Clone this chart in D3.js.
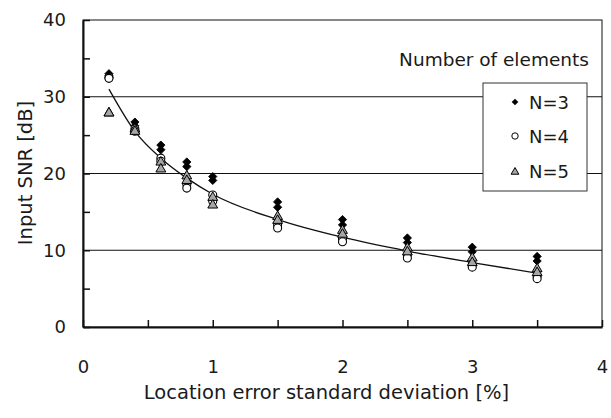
<!DOCTYPE html>
<html>
<head>
<meta charset="utf-8">
<script src="https://cdn.jsdelivr.net/npm/d3@7"></script>
<style>
  body { margin: 0; background: #fff; }
  text { font-family: "DejaVu Sans", sans-serif; fill: #1a1a1a; }
</style>
</head>
<body>
<div id="plot"></div>
<script>
// x positions (location error std dev, %)
var xs = [0.2, 0.4, 0.6, 0.8, 1.0, 1.5, 2.0, 2.5, 3.0, 3.5];

// two runs per x for each element count
var n3 = [[33.0, 32.8], [26.7, 26.2], [23.7, 23.1], [21.5, 20.9], [19.6, 19.1],
          [16.3, 15.6], [14.0, 13.3], [11.6, 11.0], [10.4, 9.8], [9.2, 8.6]];
var n4 = [[32.5, 32.4], [25.8, 25.5], [22.0, 21.6], [18.6, 18.1], [17.2, 16.4],
          [13.3, 12.9], [11.5, 11.1], [9.4, 9.0], [8.1, 7.8], [6.6, 6.3]];
var n5 = [[28.0, 28.0], [25.9, 25.6], [21.6, 20.7], [19.8, 19.2], [17.0, 16.0],
          [14.5, 14.0], [12.7, 12.2], [10.4, 9.9], [9.1, 8.5], [7.7, 7.2]];

// trend curve at the same x positions
var trend = [31.0, 25.5, 22.0, 19.4, 17.3, 14.0, 11.7, 9.9, 8.4, 7.0];

var seriesNames = ['N=3', 'N=4', 'N=5'];
var yTicks = [0, 5, 10, 15, 20, 25, 30, 35, 40];
var xTicks = [0, 0.5, 1, 1.5, 2, 2.5, 3, 3.5, 4];
var gridValues = [10, 20, 30];

function drawChart() {
  var svg_width = 611;
  var svg_height = 418;
  var plot_left = 83, plot_right = 602, plot_top = 20, plot_bottom = 327;

  var svg = d3.select('#plot').append('svg')
      .attr('width', svg_width)
      .attr('height', svg_height);

  var xscale = d3.scaleLinear().domain([0, 4]).range([plot_left, plot_right]);
  var yscale = d3.scaleLinear().domain([0, 40]).range([plot_bottom, plot_top]);

  // gridlines
  svg.append('g')
    .selectAll('line')
    .data(gridValues)
    .enter().append('line')
      .attr('x1', plot_left).attr('x2', plot_right)
      .attr('y1', d => yscale(d)).attr('y2', d => yscale(d))
      .attr('stroke', '#111')
      .attr('stroke-width', 1);

  // frame: thin top/right, heavier left/bottom from the axes
  svg.append('rect')
    .attr('x', plot_left).attr('y', plot_top)
    .attr('width', plot_right - plot_left).attr('height', plot_bottom - plot_top)
    .attr('fill', 'none')
    .attr('stroke', '#111')
    .attr('stroke-width', 1);

  var yaxis = d3.axisLeft(yscale)
    .tickValues(yTicks)
    .tickSize(-7)
    .tickSizeOuter(0)
    .tickPadding(17)
    .tickFormat(d => d % 10 === 0 ? d : '');

  var xaxis = d3.axisBottom(xscale)
    .tickValues(xTicks)
    .tickSize(-7)
    .tickSizeOuter(0)
    .tickPadding(33)
    .tickFormat(d => d % 1 === 0 ? d : '');

  svg.append('g')
    .attr('class', 'yaxis')
    .attr('transform', 'translate(' + plot_left + ', 0)')
    .call(yaxis);

  svg.append('g')
    .attr('class', 'xaxis')
    .attr('transform', 'translate(0, ' + plot_bottom + ')')
    .call(xaxis);

  svg.selectAll('.xaxis path, .yaxis path')
    .attr('stroke', '#111')
    .attr('stroke-width', 2);
  svg.selectAll('.xaxis .tick line, .yaxis .tick line')
    .attr('stroke', '#111')
    .attr('stroke-width', 1.5);
  svg.selectAll('.xaxis text, .yaxis text')
    .style('font-size', '18px')
    .style('font-family', '"DejaVu Sans", sans-serif')
    .attr('fill', '#1a1a1a');

  // axis titles
  svg.append('text')
    .attr('x', (143 + 510) / 2)
    .attr('y', 399)
    .attr('text-anchor', 'middle')
    .style('font-size', '19.5px')
    .text('Location error standard deviation [%]');

  svg.append('text')
    .attr('transform', 'translate(32, 173) rotate(-90)')
    .attr('text-anchor', 'middle')
    .style('font-size', '19.5px')
    .text('Input SNR [dB]');

  // trend curve
  var line = d3.line()
    .x((d, i) => xscale(xs[i]))
    .y(d => yscale(d))
    .curve(d3.curveMonotoneX);

  svg.append('path')
    .datum(trend)
    .attr('d', line)
    .attr('fill', 'none')
    .attr('stroke', '#111')
    .attr('stroke-width', 1.3);

  // flatten a series into points
  function points(series) {
    var out = [];
    series.forEach(function(vals, i) {
      vals.forEach(function(v) { out.push({x: xs[i], y: v}); });
    });
    return out;
  }

  var diamond = d3.symbol().type(d3.symbolSquare).size(34);
  var tri = d3.symbol().type(d3.symbolTriangle).size(42);

  svg.append('g').selectAll('path')
    .data(points(n3))
    .enter().append('path')
      .attr('d', diamond)
      .attr('transform', d => 'translate(' + xscale(d.x) + ',' + yscale(d.y) + ') rotate(45)')
      .attr('fill', '#000')
      .attr('stroke', '#000')
      .attr('stroke-width', 0.8);

  svg.append('g').selectAll('circle')
    .data(points(n4))
    .enter().append('circle')
      .attr('cx', d => xscale(d.x))
      .attr('cy', d => yscale(d.y))
      .attr('r', 4)
      .attr('fill', '#fff')
      .attr('stroke', '#000')
      .attr('stroke-width', 1.1);

  svg.append('g').selectAll('path')
    .data(points(n5))
    .enter().append('path')
      .attr('d', tri)
      .attr('transform', d => 'translate(' + xscale(d.x) + ',' + (yscale(d.y) + 1) + ')')
      .attr('fill', '#a6a6a6')
      .attr('stroke', '#000')
      .attr('stroke-width', 1);

  // legend
  svg.append('text')
    .attr('x', 494)
    .attr('y', 66)
    .attr('text-anchor', 'middle')
    .style('font-size', '18.5px')
    .text('Number of elements');

  var legend = svg.append('g');
  legend.append('rect')
    .attr('x', 483).attr('y', 83)
    .attr('width', 104).attr('height', 108)
    .attr('fill', '#fff')
    .attr('stroke', '#333')
    .attr('stroke-width', 1);

  var legendY = [102, 136, 171];
  legend.selectAll('text')
    .data(seriesNames)
    .enter().append('text')
      .attr('x', 529)
      .attr('y', (d, i) => legendY[i] + 7)
      .style('font-size', '18px')
      .text(d => d);

  legend.append('path')
    .attr('d', d3.symbol().type(d3.symbolSquare).size(22))
    .attr('transform', 'translate(515,' + legendY[0] + ') rotate(45)')
    .attr('fill', '#000');
  legend.append('circle')
    .attr('cx', 515).attr('cy', legendY[1]).attr('r', 3.2)
    .attr('fill', '#fff').attr('stroke', '#000').attr('stroke-width', 1);
  legend.append('path')
    .attr('d', d3.symbol().type(d3.symbolTriangle).size(26))
    .attr('transform', 'translate(515,' + (legendY[2] + 1) + ')')
    .attr('fill', '#a6a6a6').attr('stroke', '#000').attr('stroke-width', 1);
}

drawChart();
</script>
</body>
</html>
